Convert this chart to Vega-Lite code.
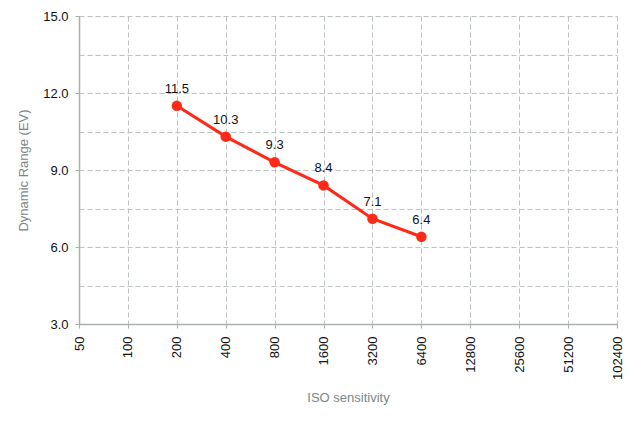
{
  "$schema": "https://vega.github.io/schema/vega-lite/v6.json",
  "autosize": "none",
  "width": 538,
  "height": 308,
  "padding": {"left": 79, "top": 16, "right": 16, "bottom": 98},
  "background": "white",
  "config": {
    "view": {"stroke": null},
    "font": "Liberation Sans",
    "axis": {
      "labelFont": "Liberation Sans",
      "titleFont": "Liberation Sans",
      "labelFontSize": 13,
      "labelColor": "#111111",
      "titleFontSize": 13,
      "titleFontWeight": "normal",
      "titleColor": "#7b8787",
      "domainColor": "#a9b0b0",
      "domainWidth": 1.5,
      "tickColor": "#a9b0b0",
      "tickSize": 4,
      "gridColor": "#bcc1c1",
      "gridDash": [5, 3],
      "gridWidth": 1
    }
  },
  "data": {
    "values": [
      {"iso": 200, "dr": 11.5},
      {"iso": 400, "dr": 10.3},
      {"iso": 800, "dr": 9.3},
      {"iso": 1600, "dr": 8.4},
      {"iso": 3200, "dr": 7.1},
      {"iso": 6400, "dr": 6.4}
    ]
  },
  "encoding": {
    "x": {
      "field": "iso",
      "type": "quantitative",
      "scale": {"type": "log", "base": 2, "domain": [50, 102400], "nice": false},
      "axis": {
        "title": "ISO sensitivity",
        "values": [50, 100, 200, 400, 800, 1600, 3200, 6400, 12800, 25600, 51200, 102400],
        "format": "d",
        "labelAngle": -90,
        "labelPadding": 8,
        "titlePadding": 12,
        "labelOverlap": false,
        "labelFlush": false
      }
    },
    "y": {
      "field": "dr",
      "type": "quantitative",
      "scale": {"domain": [3, 15], "nice": false, "zero": false},
      "axis": {
        "title": "Dynamic Range (EV)",
        "values": [3, 4.5, 6, 7.5, 9, 10.5, 12, 13.5, 15],
        "labelExpr": "datum.value % 3 == 0 ? format(datum.value, '.1f') : ''",
        "tickOpacity": {"condition": {"test": "datum.value % 3 == 0", "value": 1}, "value": 0},
        "labelPadding": 7,
        "titlePadding": 12,
        "labelFlush": false,
        "labelOverlap": false
      }
    }
  },
  "layer": [
    {
      "mark": {"type": "line", "color": "#fe2a17", "strokeWidth": 3}
    },
    {
      "mark": {"type": "point", "filled": true, "color": "#fe2a17", "size": 110, "opacity": 1}
    },
    {
      "mark": {"type": "text", "dy": -17, "fontSize": 13, "color": "#111111"},
      "encoding": {"text": {"field": "dr", "type": "quantitative", "format": ".1f"}}
    }
  ]
}
